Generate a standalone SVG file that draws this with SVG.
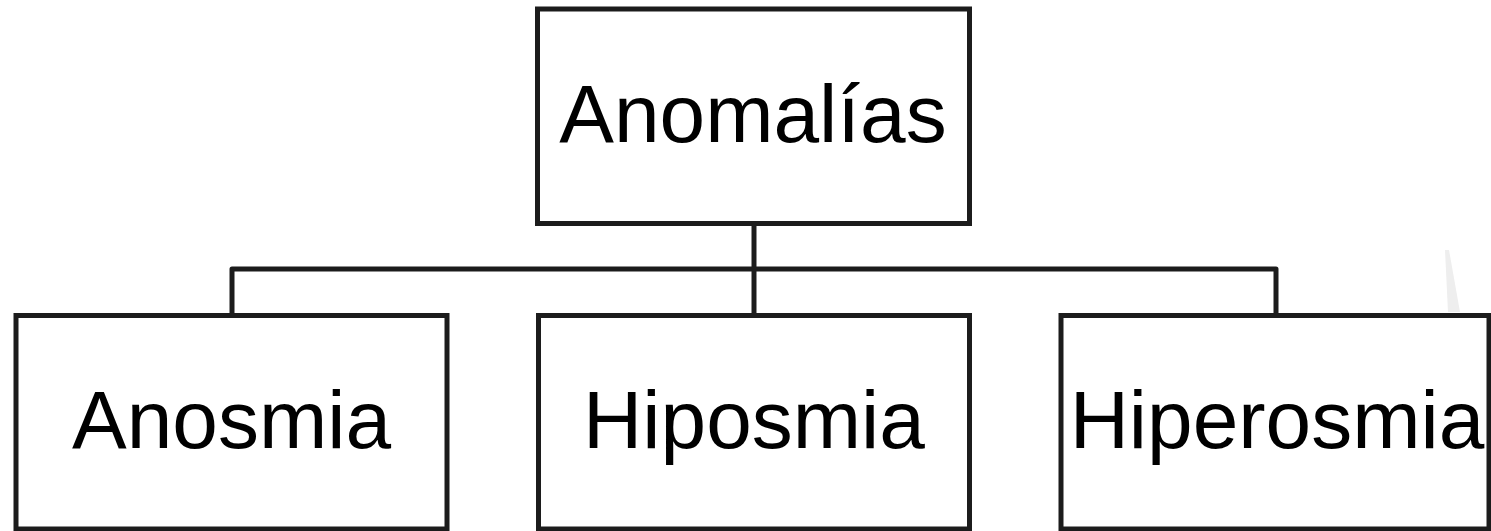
<svg xmlns="http://www.w3.org/2000/svg" width="1491" height="531" viewBox="0 0 1491 531">
  <style>
    .box { fill: #ffffff; stroke: #1c1c1c; stroke-width: 5; }
    .label { font-family: "Liberation Sans", Arial, sans-serif; font-size: 82px; fill: #000000; text-anchor: middle; }
    .link { fill: none; stroke: #1c1c1c; stroke-width: 5; stroke-linejoin: round; }
  </style>
  <rect width="1491" height="531" fill="#ffffff"/>
  <!-- faint sliver in the background at the right -->
  <polygon points="1445,250 1449,250 1460,312 1448,312" fill="#eeeeee"/>

  <g id="connectors">
    <path class="link" d="M754,224 V269"/>
    <path class="link" d="M232,315 V269 H1276 V315"/>
    <path class="link" d="M754,269 V315"/>
  </g>

  <g id="anomalias">
    <rect class="box" x="537.5" y="9" width="432" height="214.5"/>
    <text class="label" x="753" y="142">Anomalías</text>
  </g>

  <g id="anosmia">
    <rect class="box" x="16" y="315.5" width="431" height="213.5"/>
    <text class="label" x="231.5" y="448">Anosmia</text>
  </g>

  <g id="hiposmia">
    <rect class="box" x="538.5" y="315.5" width="431" height="213.5"/>
    <text class="label" x="754" y="448">Hiposmia</text>
  </g>

  <g id="hiperosmia">
    <rect class="box" x="1061" y="315.5" width="428" height="213.5"/>
    <text class="label" x="1277" y="448">Hiperosmia</text>
  </g>
</svg>
